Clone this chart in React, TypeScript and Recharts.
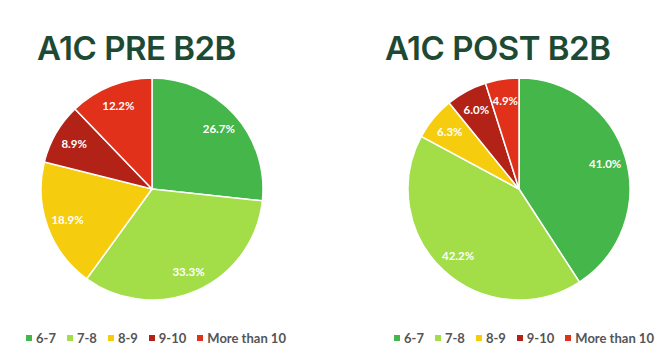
import React from 'react';
import { PieChart, Pie, Cell, Legend } from 'recharts';

const categories = ['6-7', '7-8', '8-9', '9-10', 'More than 10'];
const preValues = [26.7, 33.3, 18.9, 8.9, 12.2];
const postValues = [41.0, 42.2, 6.3, 6.0, 4.9];
const colors = ['#45b649', '#a3dd48', '#f6cc0e', '#b32217', '#e2311a'];

const RADIAN = Math.PI / 180;

const renderLabel = (props: any) => {
  const { cx, cy, midAngle, outerRadius, value } = props;
  const r = outerRadius * 0.81;
  const x = cx + r * Math.cos(-midAngle * RADIAN);
  const y = cy + r * Math.sin(-midAngle * RADIAN);
  return (
    <text
      x={x}
      y={y}
      fill="#ffffff"
      textAnchor="middle"
      dominantBaseline="central"
      style={{ fontFamily: 'Lato, sans-serif', fontWeight: 700, fontSize: 11.5 }}
    >
      {value.toFixed(1) + '%'}
    </text>
  );
};

const LegendContent = ({ payload }: any) => (
  <div style={{ display: 'flex', alignItems: 'center', whiteSpace: 'nowrap', fontFamily: 'Lato, sans-serif', fontWeight: 700, fontSize: 13, color: '#555555' }}>
    {payload.map((entry: any, i: number) => (
      <div key={i} style={{ display: 'flex', alignItems: 'center', marginRight: 11, whiteSpace: 'nowrap' }}>
        <span style={{ width: 6, height: 6, background: entry.color, display: 'inline-block', marginRight: 4 }} />
        <span>{entry.value}</span>
      </div>
    ))}
  </div>
);

interface PanelProps {
  title: string;
  values: number[];
  cx: number;
  titleLeft: number;
  legendLeft: number;
}

function Panel({ title, values, cx, titleLeft, legendLeft }: PanelProps) {
  const data = categories.map((name, i) => ({ name, value: values[i] }));
  return (
    <div style={{ position: 'relative', width: 330, height: 363 }}>
      <div
        style={{
          position: 'absolute',
          left: titleLeft,
          top: 28,
          fontFamily: 'Inter, sans-serif',
          fontWeight: 600,
          fontSize: 33,
          color: '#1e4a34',
          letterSpacing: -0.5,
          whiteSpace: 'nowrap',
        }}
      >
        {title}
      </div>
      <PieChart width={330} height={363} margin={{ top: 0, right: 0, bottom: 0, left: 0 }}>
        <Pie
          data={data}
          dataKey="value"
          nameKey="name"
          cx={cx}
          cy={189}
          outerRadius={111}
          startAngle={90}
          endAngle={-270}
          stroke="#ffffff"
          strokeWidth={1.5}
          label={renderLabel}
          labelLine={false}
          isAnimationActive={false}
        >
          {data.map((d, i) => (
            <Cell key={d.name} fill={colors[i]} />
          ))}
        </Pie>
        <Legend
          content={<LegendContent />}
          wrapperStyle={{ position: 'absolute', left: legendLeft, top: 330, width: 300 }}
        />
      </PieChart>
    </div>
  );
}

export default function App() {
  return (
    <div style={{ position: 'absolute', left: 0, top: 0, width: 660, height: 363, background: '#ffffff', display: 'flex' }}>
      <Panel title="A1C PRE B2B" values={preValues} cx={152} titleLeft={37} legendLeft={26} />
      <Panel title="A1C POST B2B" values={postValues} cx={189} titleLeft={55} legendLeft={64} />
    </div>
  );
}
